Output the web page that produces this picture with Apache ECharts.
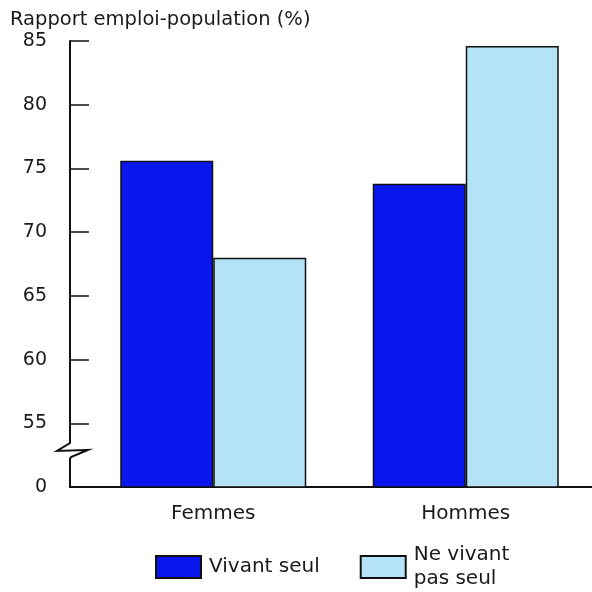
<!DOCTYPE html>
<html>
<head>
<meta charset="utf-8">
<script src="https://cdn.jsdelivr.net/npm/echarts@6/dist/echarts.min.js"></script>
<style>html,body{margin:0;padding:0;background:#fff}#c{width:592px;height:592px}</style>
</head>
<body>
<div id="c"></div>
<script>
const categories = ['Femmes', 'Hommes'];
const seriesNames = ['Vivant seul', 'Ne vivant\npas seul'];
const vivantSeul = [75.6, 73.8];
const neVivantPasSeul = [68.0, 84.6];
const yTicks = [50, 55, 60, 65, 70, 75, 80, 85];
const yTickLabels = ['0', '55', '60', '65', '70', '75', '80', '85'];
const titleText = 'Rapport emploi-population (%)';

const FONT = 'DejaVu Sans';
const chart = echarts.init(document.getElementById('c'), null, {renderer: 'canvas'});
chart.setOption({
  backgroundColor: '#fff',
  animation: false,
  title: {
    text: titleText, left: 5, top: 5,
    textStyle: {fontFamily: FONT, fontSize: 19.5, fontWeight: 'normal', color: '#1a1a1a'}
  },
  legend: {
    left: 155, top: 543, padding: 0, itemWidth: 45, itemHeight: 22, itemGap: 40,
    icon: 'rect',
    textStyle: {fontFamily: FONT, fontSize: 20, color: '#1a1a1a', lineHeight: 24, padding: [0, 0, 0, 3]},
    data: seriesNames
  },
  grid: [
    {left: 87, right: 0, top: 41, bottom: 105},
    {left: 70, right: 0, top: 41, bottom: 105}
  ],
  xAxis: [
    {
      type: 'category', gridIndex: 0, data: categories,
      axisLine: {show: false}, axisTick: {show: false},
      axisLabel: {fontFamily: FONT, fontSize: 20, color: '#1a1a1a', margin: 17}
    },
    {
      type: 'value', gridIndex: 1, min: 0, max: 1,
      axisLine: {show: true, lineStyle: {color: '#111', width: 2}},
      axisTick: {show: false}, axisLabel: {show: false}, splitLine: {show: false}
    }
  ],
  yAxis: [
    {
      type: 'value', gridIndex: 0, min: yTicks[0], max: yTicks[yTicks.length - 1], interval: 5,
      offset: 17,
      axisLine: {show: true, lineStyle: {color: '#111', width: 2}},
      axisTick: {show: true, inside: true, length: 19, lineStyle: {color: '#111', width: 1.5}},
      splitLine: {show: false},
      axisLabel: {
        fontFamily: FONT, fontSize: 19, color: '#1a1a1a', margin: 23,
        formatter: v => { const i = yTicks.indexOf(v); return i >= 0 ? yTickLabels[i] : ''; }
      }
    },
    {type: 'value', gridIndex: 1, show: false, min: 0, max: 1}
  ],
  series: [
    {
      name: seriesNames[0], type: 'bar', data: vivantSeul, barWidth: 93, barGap: '0%',
      itemStyle: {color: '#0a16ee', borderColor: '#111', borderWidth: 1.5}
    },
    {
      name: seriesNames[1], type: 'bar', data: neVivantPasSeul, barWidth: 93, barGap: '0%',
      itemStyle: {color: '#b4e2f7', borderColor: '#111', borderWidth: 1.5}
    }
  ],
  graphic: [
    {type: 'rect', shape: {x: 63, y: 441, width: 14, height: 17}, style: {fill: '#fff'}, z: 100},
    {type: 'polyline', shape: {points: [[70, 440], [70, 443], [57, 451], [88, 450], [71, 457], [70, 459]]},
     style: {stroke: '#111', lineWidth: 2, fill: null}, z: 101}
  ]
});
</script>
</body>
</html>
